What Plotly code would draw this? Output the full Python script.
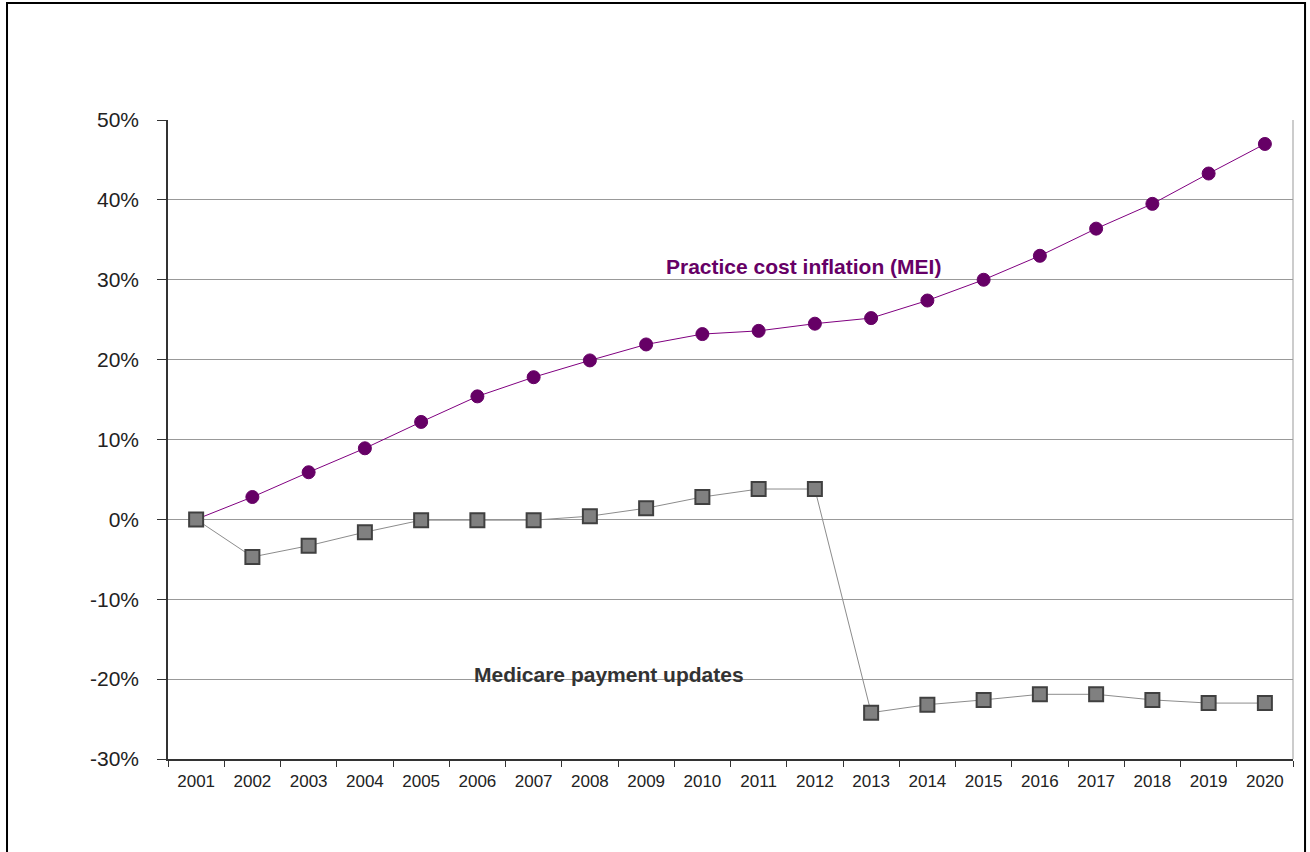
import plotly.graph_objects as go

years = [str(y) for y in range(2001, 2021)]
mei = [0, 2.8, 5.9, 8.9, 12.2, 15.4, 17.8, 19.9, 21.9, 23.2, 23.6, 24.5, 25.2, 27.4, 30.0, 33.0, 36.4, 39.5, 43.3, 47.0]
medicare = [0, -4.7, -3.3, -1.6, -0.1, -0.1, -0.1, 0.4, 1.4, 2.8, 3.8, 3.8, -24.2, -23.2, -22.6, -21.9, -21.9, -22.6, -23.0, -23.0]
y_ticks = [-30, -20, -10, 0, 10, 20, 30, 40, 50]
y_tick_labels = ["-30%", "-20%", "-10%", "0%", "10%", "20%", "30%", "40%", "50%"]

fig = go.Figure()
fig.add_trace(go.Scatter(
    x=years, y=mei, mode="lines+markers",
    line=dict(color="#800080", width=1),
    marker=dict(symbol="circle", size=13, color="#660066", line=dict(color="#660066", width=1)),
    name="Practice cost inflation (MEI)", showlegend=False))
fig.add_trace(go.Scatter(
    x=years, y=medicare, mode="lines+markers",
    line=dict(color="#8c8c8c", width=1),
    marker=dict(symbol="square", size=14, color="#808080", line=dict(color="#404040", width=2)),
    name="Medicare payment updates", showlegend=False))

fig.add_annotation(x=0.565, y=31.6, xref="paper", yref="y", text="<b>Practice cost inflation (MEI)</b>",
                   showarrow=False, font=dict(family="Arial, Liberation Sans", size=21, color="#660066"))
fig.add_annotation(x=0.3916, y=-19.4, xref="paper", yref="y", text="<b>Medicare payment updates</b>",
                   showarrow=False, font=dict(family="Arial, Liberation Sans", size=21, color="#333333"))

# outer frame
fig.add_shape(type="rect", xref="paper", yref="paper", x0=-0.1431, x1=1.0107, y0=-0.2, y1=1.1831,
              line=dict(color="black", width=2), layer="below")
# right plot border
fig.add_shape(type="line", xref="paper", yref="paper", x0=1, x1=1, y0=0, y1=1,
              line=dict(color="#999999", width=1))

fig.update_layout(
    width=1310, height=852,
    margin=dict(l=168, r=17, t=120, b=93),
    paper_bgcolor="white", plot_bgcolor="white",
    font=dict(family="Arial, Liberation Sans", color="#222222"),
)
fig.update_xaxes(
    type="category", range=[-0.5, 19.5], tickson="boundaries",
    ticks="outside", ticklen=6, tickcolor="#333333", tickwidth=1,
    showline=True, linecolor="#333333", linewidth=1.5,
    showgrid=False, tickfont=dict(size=17, color="#222222"), ticklabelstandoff=6,
)
fig.update_yaxes(
    range=[-30, 50], tickvals=y_ticks, ticktext=y_tick_labels,
    ticks="outside", ticklen=9, tickcolor="#333333", tickwidth=1,
    showline=True, linecolor="#333333", linewidth=1.5,
    showgrid=True, gridcolor="#999999", gridwidth=1, zeroline=False,
    tickfont=dict(size=21, color="#222222"), ticklabelstandoff=14,
)

fig.write_html("out.html")
